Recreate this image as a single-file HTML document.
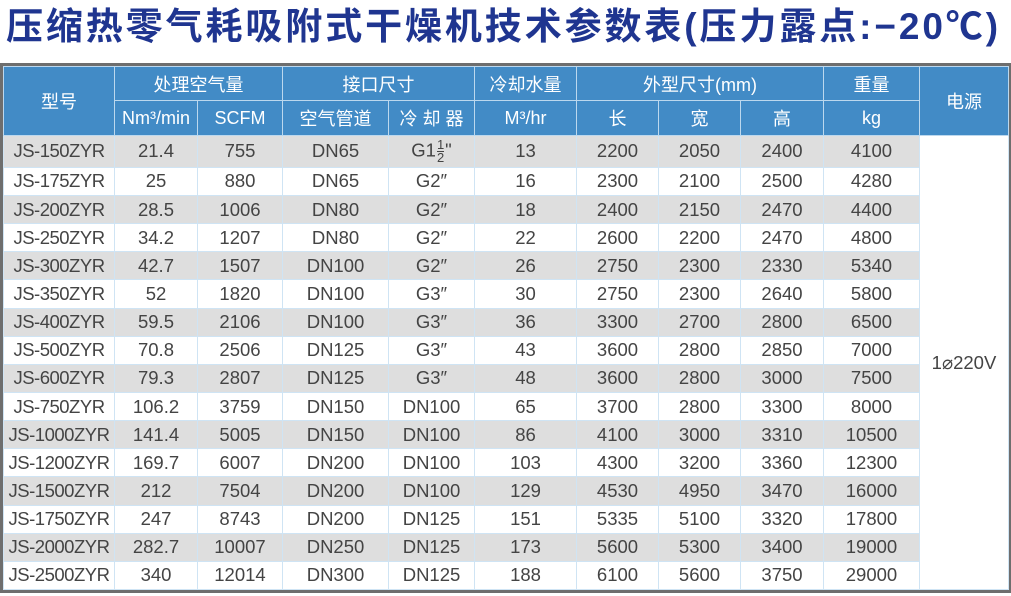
<!DOCTYPE html>
<html><head><meta charset="utf-8">
<style>
html,body{margin:0;padding:0;background:#fff;}
body{width:1011px;height:596px;position:relative;overflow:hidden;font-family:"Liberation Sans","Noto Sans CJK SC",sans-serif;}
.title{position:absolute;left:6px;top:3px;width:1005px;height:48px;font-size:37px;font-weight:bold;color:#1f3590;white-space:nowrap;line-height:48px;letter-spacing:2.9px;font-family:"Liberation Sans","Noto Sans CJK SC",sans-serif;}
.frame{position:absolute;left:0;top:63px;width:1005px;height:524px;border:3px solid #6e6e6e;}
table{border-collapse:collapse;table-layout:fixed;width:1005px;height:524px;}
td{border:1px solid #cfe4f4;text-align:center;color:#444;font-size:18.5px;padding:0;white-space:nowrap;}
tr:not(.h) td:first-child{letter-spacing:-0.5px;}
tr.h td{background:#428bc6;color:#fff;font-size:18px;border-color:#bcd8ee;}
tr.g td{background:#dedede;}
tr.w td{background:#fff;}
td.pw{background:#fff !important;}
.fr{display:inline-block;vertical-align:middle;font-size:13px;line-height:12px;text-align:center;margin:0 1px;}
.fr span{display:block;}
.fr .t{border-bottom:1px solid #444;}
</style></head><body>
<div class="title">压缩热零气耗吸附式干燥机技术参数表(压力露点:−20℃)</div>
<div class="frame">
<table>
<colgroup>
<col style="width:111px"><col style="width:83px"><col style="width:85px"><col style="width:106px"><col style="width:86px"><col style="width:102px"><col style="width:82px"><col style="width:82px"><col style="width:83px"><col style="width:96px"><col style="width:89px">
</colgroup>
<tr class="h" style="height:34px"><td rowspan="2">型号</td><td colspan="2">处理空气量</td><td colspan="2">接口尺寸</td><td>冷却水量</td><td colspan="3">外型尺寸(mm)</td><td>重量</td><td rowspan="2">电源</td></tr>
<tr class="h" style="height:35px"><td>Nm³/min</td><td>SCFM</td><td>空气管道</td><td>冷 却 器</td><td>M³/hr</td><td>长</td><td>宽</td><td>高</td><td>kg</td></tr>
<tr class="g"><td>JS-150ZYR</td><td>21.4</td><td>755</td><td>DN65</td><td>G1<span class="fr"><span class="t">1</span><span>2</span></span>"</td><td>13</td><td>2200</td><td>2050</td><td>2400</td><td>4100</td><td rowspan="17" class="pw">1⌀220V</td></tr>
<tr class="w"><td>JS-175ZYR</td><td>25</td><td>880</td><td>DN65</td><td>G2″</td><td>16</td><td>2300</td><td>2100</td><td>2500</td><td>4280</td></tr>
<tr class="g"><td>JS-200ZYR</td><td>28.5</td><td>1006</td><td>DN80</td><td>G2″</td><td>18</td><td>2400</td><td>2150</td><td>2470</td><td>4400</td></tr>
<tr class="w"><td>JS-250ZYR</td><td>34.2</td><td>1207</td><td>DN80</td><td>G2″</td><td>22</td><td>2600</td><td>2200</td><td>2470</td><td>4800</td></tr>
<tr class="g"><td>JS-300ZYR</td><td>42.7</td><td>1507</td><td>DN100</td><td>G2″</td><td>26</td><td>2750</td><td>2300</td><td>2330</td><td>5340</td></tr>
<tr class="w"><td>JS-350ZYR</td><td>52</td><td>1820</td><td>DN100</td><td>G3″</td><td>30</td><td>2750</td><td>2300</td><td>2640</td><td>5800</td></tr>
<tr class="g"><td>JS-400ZYR</td><td>59.5</td><td>2106</td><td>DN100</td><td>G3″</td><td>36</td><td>3300</td><td>2700</td><td>2800</td><td>6500</td></tr>
<tr class="w"><td>JS-500ZYR</td><td>70.8</td><td>2506</td><td>DN125</td><td>G3″</td><td>43</td><td>3600</td><td>2800</td><td>2850</td><td>7000</td></tr>
<tr class="g"><td>JS-600ZYR</td><td>79.3</td><td>2807</td><td>DN125</td><td>G3″</td><td>48</td><td>3600</td><td>2800</td><td>3000</td><td>7500</td></tr>
<tr class="w"><td>JS-750ZYR</td><td>106.2</td><td>3759</td><td>DN150</td><td>DN100</td><td>65</td><td>3700</td><td>2800</td><td>3300</td><td>8000</td></tr>
<tr class="g"><td>JS-1000ZYR</td><td>141.4</td><td>5005</td><td>DN150</td><td>DN100</td><td>86</td><td>4100</td><td>3000</td><td>3310</td><td>10500</td></tr>
<tr class="w"><td>JS-1200ZYR</td><td>169.7</td><td>6007</td><td>DN200</td><td>DN100</td><td>103</td><td>4300</td><td>3200</td><td>3360</td><td>12300</td></tr>
<tr class="g"><td>JS-1500ZYR</td><td>212</td><td>7504</td><td>DN200</td><td>DN100</td><td>129</td><td>4530</td><td>4950</td><td>3470</td><td>16000</td></tr>
<tr class="w"><td>JS-1750ZYR</td><td>247</td><td>8743</td><td>DN200</td><td>DN125</td><td>151</td><td>5335</td><td>5100</td><td>3320</td><td>17800</td></tr>
<tr class="g"><td>JS-2000ZYR</td><td>282.7</td><td>10007</td><td>DN250</td><td>DN125</td><td>173</td><td>5600</td><td>5300</td><td>3400</td><td>19000</td></tr>
<tr class="w"><td>JS-2500ZYR</td><td>340</td><td>12014</td><td>DN300</td><td>DN125</td><td>188</td><td>6100</td><td>5600</td><td>3750</td><td>29000</td></tr>
</table>
</div>
</body></html>
